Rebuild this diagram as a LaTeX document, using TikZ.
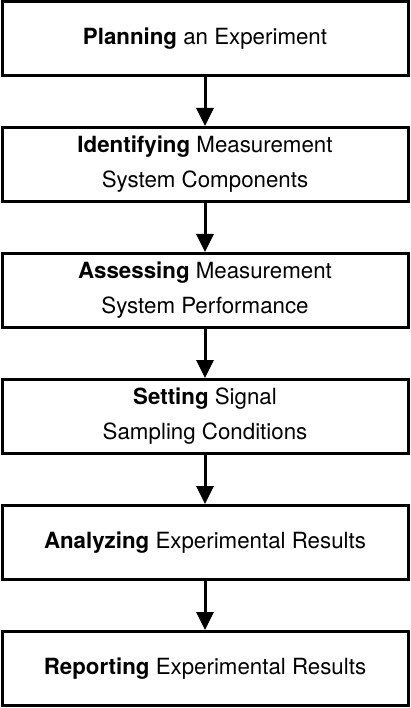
\documentclass[tikz,border=0pt]{standalone}
\usepackage{fontspec}
\setmainfont{TeX Gyre Heros}
\usetikzlibrary{positioning,arrows.meta}
\tikzset{
  node distance=49pt,
  stage_box/.style = {draw=black, line width=3pt, minimum width=406pt, minimum height=74pt, align=center, inner sep=0pt, font=\fontsize{22.3}{35}\selectfont},
  stage_arr/.style = {line width=3pt, -{Triangle[length=18pt, width=17pt]}}
}
\begin{document}
\begin{tikzpicture}
	\useasboundingbox (0,0) rectangle (410pt,-708pt);
	\node [stage_box] (plan) at (205pt,-38.5pt) {\textbf{Planning} an Experiment};
	\node [stage_box, below=of plan] (ident) {\textbf{Identifying} Measurement\\System Components};
	\node [stage_box, below=of ident] (assess) {\textbf{Assessing} Measurement\\System Performance};
	\node [stage_box, below=of assess] (setting) {\textbf{Setting} Signal\\Sampling Conditions};
	\node [stage_box, below=of setting] (analyze) {\textbf{Analyzing} Experimental Results};
	\node [stage_box, below=of analyze] (report) {\textbf{Reporting} Experimental Results};
	% arrows between the stages
	\draw [stage_arr] (plan) -- (ident);
	\draw [stage_arr] (ident) -- (assess);
	\draw [stage_arr] (assess) -- (setting);
	\draw [stage_arr] (setting) -- (analyze);
	\draw [stage_arr] (analyze) -- (report);
\end{tikzpicture}
\end{document}
